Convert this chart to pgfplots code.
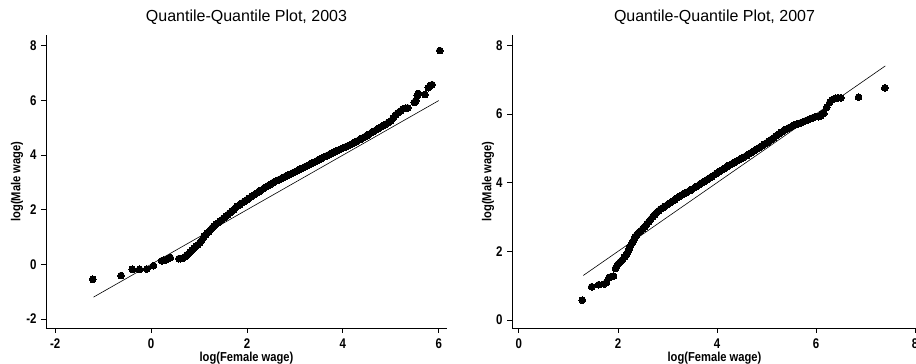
\documentclass[border=0pt]{standalone}
\usepackage{fontspec}
\setmainfont{Liberation Sans}
\newfontfamily\narrowsans[FakeStretch=0.82]{Liberation Sans}
\newfontfamily\labelsans[FakeStretch=0.86]{Liberation Sans}
\usepackage{pgfplots}
\usepackage{pgfplotstable}
\pgfplotsset{compat=1.18}

% Quantile pairs: log(female wage) vs log(male wage), 2003
\pgfplotstableread{
x y
-1.215 -0.55
-0.625 -0.41
-0.39 -0.18
-0.24 -0.18
-0.09 -0.17
0.05 -0.05
0.22 0.13
0.27 0.15
0.32 0.17
0.36 0.21
0.40 0.25
0.58 0.21
0.62 0.21
0.66 0.22
0.70 0.27
0.74 0.33
0.78 0.39
0.82 0.45
0.86 0.52
0.90 0.59
0.94 0.66
0.98 0.72
1.02 0.80
1.05 0.86
1.08 0.95
1.11 1.03
1.14 1.09
1.17 1.14
1.20 1.19
1.24 1.27
1.28 1.35
1.32 1.41
1.36 1.47
1.40 1.52
1.44 1.58
1.48 1.64
1.52 1.70
1.56 1.76
1.60 1.82
1.64 1.88
1.68 1.94
1.72 2.00
1.76 2.07
1.80 2.13
1.85 2.19
1.90 2.25
1.95 2.31
2.00 2.37
2.05 2.43
2.10 2.49
2.15 2.55
2.20 2.61
2.25 2.67
2.30 2.72
2.35 2.78
2.40 2.84
2.45 2.89
2.50 2.94
2.55 3.00
2.60 3.05
2.65 3.09
2.70 3.13
2.75 3.18
2.80 3.22
2.85 3.26
2.90 3.30
2.95 3.35
3.00 3.39
3.05 3.43
3.10 3.48
3.15 3.52
3.20 3.57
3.25 3.61
3.30 3.65
3.35 3.70
3.40 3.74
3.45 3.79
3.50 3.84
3.55 3.88
3.60 3.93
3.65 3.97
3.70 4.01
3.75 4.06
3.80 4.10
3.85 4.14
3.90 4.18
3.95 4.22
4.00 4.26
4.05 4.30
4.10 4.34
4.15 4.38
4.20 4.42
4.25 4.47
4.30 4.52
4.35 4.57
4.40 4.62
4.45 4.67
4.50 4.72
4.55 4.77
4.60 4.83
4.65 4.88
4.70 4.93
4.75 4.98
4.80 5.04
4.85 5.09
4.90 5.14
4.95 5.20
5.00 5.26
5.05 5.36
5.10 5.48
5.15 5.55
5.20 5.62
5.26 5.70
5.31 5.72
5.35 5.73
5.49 5.93
5.52 6.00
5.55 6.18
5.57 6.26
5.71 6.22
5.78 6.47
5.81 6.52
5.84 6.56
5.86 6.58
6.02 7.83
}\qqA

% Quantile pairs, 2007
\pgfplotstableread{
x y
1.28 0.58
1.47 0.97
1.61 1.03
1.72 1.05
1.77 1.10
1.82 1.24
1.87 1.27
1.91 1.28
1.95 1.50
1.98 1.58
2.01 1.64
2.05 1.70
2.09 1.76
2.13 1.83
2.17 1.91
2.20 1.99
2.23 2.09
2.26 2.18
2.29 2.25
2.32 2.34
2.35 2.42
2.38 2.49
2.42 2.55
2.46 2.60
2.50 2.66
2.54 2.72
2.58 2.79
2.62 2.86
2.66 2.93
2.70 3.00
2.74 3.07
2.78 3.13
2.82 3.18
2.86 3.23
2.90 3.27
2.95 3.31
3.00 3.36
3.05 3.41
3.10 3.46
3.15 3.51
3.20 3.56
3.25 3.61
3.30 3.65
3.35 3.69
3.40 3.73
3.45 3.77
3.50 3.81
3.55 3.86
3.60 3.90
3.65 3.95
3.70 4.00
3.75 4.04
3.80 4.09
3.85 4.14
3.90 4.18
3.95 4.23
4.00 4.28
4.05 4.33
4.10 4.37
4.15 4.42
4.20 4.47
4.25 4.51
4.30 4.55
4.35 4.59
4.40 4.63
4.45 4.67
4.50 4.71
4.55 4.75
4.60 4.79
4.65 4.84
4.70 4.88
4.75 4.93
4.80 4.98
4.85 5.02
4.90 5.07
4.95 5.12
5.00 5.16
5.05 5.21
5.10 5.26
5.15 5.31
5.20 5.37
5.25 5.42
5.30 5.47
5.35 5.52
5.40 5.56
5.45 5.60
5.50 5.63
5.55 5.67
5.60 5.70
5.65 5.72
5.70 5.75
5.75 5.78
5.80 5.81
5.85 5.84
5.90 5.87
5.95 5.90
6.00 5.93
6.05 5.92
6.09 5.94
6.12 5.99
6.16 6.02
6.22 6.20
6.28 6.34
6.32 6.41
6.36 6.44
6.40 6.46
6.45 6.47
6.50 6.47
6.86 6.49
7.39 6.76
}\qqB

\pgfplotsset{
  qqstyle/.style={
    scale only axis,
    anchor=south west,
    axis x line*=bottom, axis y line*=left,
    axis line style={-, line width=0.9pt, black},
    tick align=outside,
    major tick length=5pt,
    every tick/.style={line width=0.9pt, black},
    /pgf/number format/assume math mode=true,
    tick label style={font=\narrowsans\bfseries\fontsize{14}{14}\selectfont},
    xticklabel style={yshift=-2pt},
    yticklabel style={xshift=-1pt},
    label style={font=\labelsans\bfseries\fontsize{13}{14}\selectfont},
    title style={font=\fontsize{16}{18}\selectfont, at={(axis description cs:0.5,1.041)}, anchor=center},
    xlabel style={at={(axis description cs:0.5,-0.1024)}, anchor=center},
    clip=false,
  },
  qqmarks/.style={only marks, mark=*, mark size=3.4pt,
    mark options={fill=black, draw=black, line width=0pt}},
  qqline/.style={black, line width=0.6pt},
}

\begin{document}
\begin{tikzpicture}
\useasboundingbox (0,0) rectangle (916pt,364pt);

\begin{axis}[qqstyle,
  at={(46pt,36pt)}, width=401pt, height=293pt,
  xmin=-2.19, xmax=6.17, ymin=-2.33, ymax=8.4,
  xtick={-2,0,2,4,6}, ytick={-2,0,2,4,6,8},
  title={Quantile-Quantile Plot, 2003},
  xlabel={log(Female wage)}, ylabel={log(Male wage)},
  ylabel style={at={(axis description cs:-0.0723,0.5)}, anchor=center},
]
\addplot[qqmarks] table[x=x, y=y] {\qqA};
\addplot[qqline] coordinates {(-1.2,-1.2) (6.0,6.0)};
\end{axis}

\begin{axis}[qqstyle,
  at={(512pt,36pt)}, width=405pt, height=293pt,
  xmin=-0.14, xmax=8.04, ymin=-0.23, ymax=8.3,
  xtick={0,2,4,6,8}, ytick={0,2,4,6,8},
  title={Quantile-Quantile Plot, 2007},
  xlabel={log(Female wage)}, ylabel={log(Male wage)},
  ylabel style={at={(axis description cs:-0.059,0.5)}, anchor=center},
]
\addplot[qqmarks] table[x=x, y=y] {\qqB};
\addplot[qqline] coordinates {(1.3,1.3) (7.4,7.4)};
\end{axis}
\end{tikzpicture}
\end{document}
